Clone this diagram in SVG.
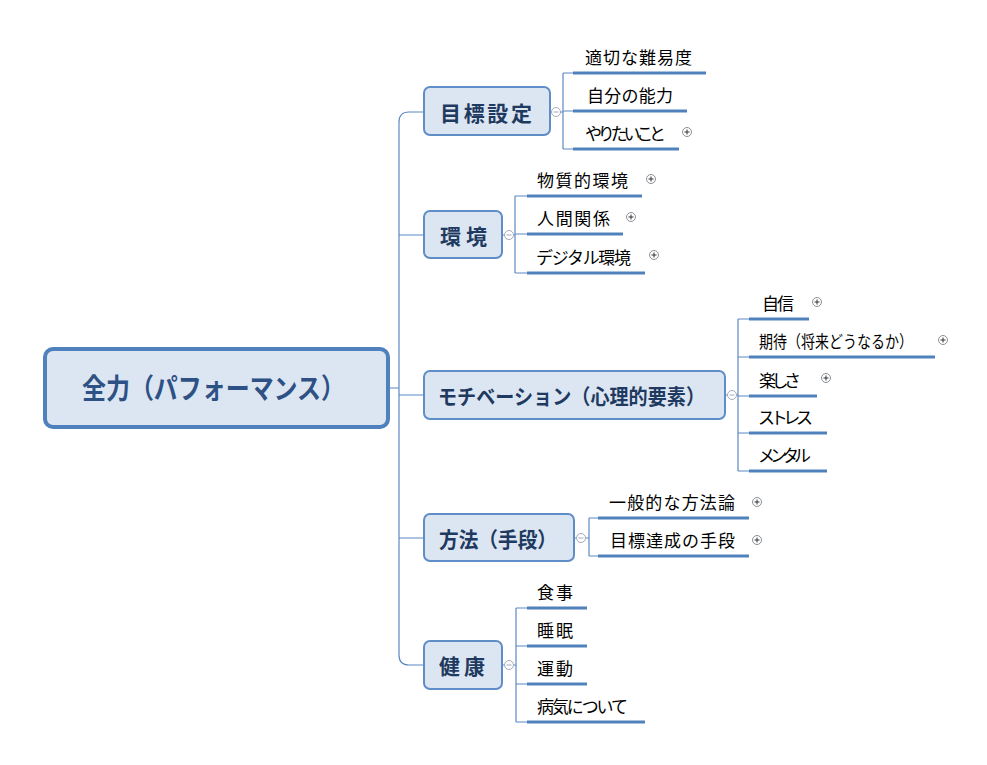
<svg xmlns="http://www.w3.org/2000/svg" width="987" height="765" viewBox="0 0 987 765">
<defs>
<style>
.root{fill:#dce6f2;stroke:#4f81bd;stroke-width:4}
.main{fill:#dce6f2;stroke:#5f8dc8;stroke-width:2}
.rt{font-family:"Noto Sans CJK JP",sans-serif;font-size:28px;font-weight:bold;fill:#2e5185;dominant-baseline:central}
.mt{font-family:"Noto Sans CJK JP",sans-serif;font-size:21px;font-weight:bold;fill:#1f3a60;dominant-baseline:central}
.ct{font-family:"Noto Sans CJK JP",sans-serif;font-size:17px;fill:#000;dominant-baseline:central}
.ln{fill:none;stroke:#5b89c3;stroke-width:1.2}
.ul{stroke:#4f81bd;stroke-width:3}
.cc{fill:#fff;stroke:#a3aabb;stroke-width:1}
.cm{stroke:#a3aabb;stroke-width:1}
.pc{fill:#fff;stroke:#8a8f99;stroke-width:1}
.pm{stroke:#333;stroke-width:1}
</style>
<g id="minus"><circle class="cc" cx="0" cy="0" r="4.5"/><line class="cm" x1="-2.5" y1="0" x2="2.5" y2="0"/></g>
<g id="plus"><circle class="pc" cx="0" cy="0" r="4.5"/><line class="pm" x1="-2.5" y1="0" x2="2.5" y2="0"/><line class="pm" x1="0" y1="-2.5" x2="0" y2="2.5"/></g>
</defs>
<rect width="987" height="765" fill="#fff"/>

<g id="connectors">
<path class="ln" d="M389,388 H399 M423,112 H409 Q399,112 399,122 V655 Q399,665 409,665 H423 M399,235 H423 M399,395 H424 M399,538 H424"/>
<path class="ln" d="M551,112 H563 M563,73 V149 M563,73 H573 M563,111 H573 M563,149 H573"/>
<path class="ln" d="M503,235 H515 M515,196 V273 M515,196 H527 M515,234 H527 M515,273 H527"/>
<path class="ln" d="M726,395 H738 M738,319 V471 M738,319 H749 M738,357 H749 M738,396 H749 M738,433 H749 M738,471 H749"/>
<path class="ln" d="M575,538 H589 M589,518 V556 M589,518 H598 M589,556 H598"/>
<path class="ln" d="M503,665 H516 M516,608 V722 M516,608 H527 M516,646 H527 M516,684 H527 M516,722 H527"/>
<g class="ul">
<line x1="573" y1="73" x2="706" y2="73"/>
<line x1="573" y1="111" x2="687" y2="111"/>
<line x1="573" y1="149" x2="679" y2="149"/>
<line x1="527" y1="196" x2="642" y2="196"/>
<line x1="527" y1="234" x2="623" y2="234"/>
<line x1="527" y1="273" x2="645" y2="273"/>
<line x1="749" y1="319" x2="809" y2="319"/>
<line x1="749" y1="357" x2="935" y2="357"/>
<line x1="749" y1="396" x2="817" y2="396"/>
<line x1="749" y1="433" x2="827" y2="433"/>
<line x1="749" y1="471" x2="827" y2="471"/>
<line x1="598" y1="518" x2="749" y2="518"/>
<line x1="598" y1="556" x2="749" y2="556"/>
<line x1="527" y1="608" x2="587" y2="608"/>
<line x1="527" y1="646" x2="587" y2="646"/>
<line x1="527" y1="684" x2="587" y2="684"/>
<line x1="527" y1="722" x2="645" y2="722"/>
</g>
</g>

<g id="root">
<rect class="root" x="45" y="349" width="343" height="78" rx="8"/>
<text class="rt" x="82" y="387" textLength="263" lengthAdjust="spacingAndGlyphs">全力（パフォーマンス）</text>
</g>

<g id="n-goal">
<rect class="main" x="424" y="87" width="126" height="48" rx="6"/>
<text class="mt" x="440" y="111.5" textLength="92">目標設定</text>
<use href="#minus" x="556" y="112"/>
</g>
<g id="n-env">
<rect class="main" x="424" y="211" width="78" height="47" rx="6"/>
<text class="mt" x="440" y="235" textLength="47">環境</text>
<use href="#minus" x="509" y="235"/>
</g>
<g id="n-mot">
<rect class="main" x="424" y="371" width="301" height="48" rx="6"/>
<text class="mt" x="438" y="395" textLength="267" lengthAdjust="spacingAndGlyphs">モチベーション（心理的要素）</text>
<use href="#minus" x="732" y="395"/>
</g>
<g id="n-method">
<rect class="main" x="424" y="514" width="150" height="47" rx="6"/>
<text class="mt" x="439" y="538" textLength="118" lengthAdjust="spacingAndGlyphs">方法（手段）</text>
<use href="#minus" x="581" y="538"/>
</g>
<g id="n-health">
<rect class="main" x="424" y="641" width="78" height="48" rx="6"/>
<text class="mt" x="439" y="665" textLength="46">健康</text>
<use href="#minus" x="509" y="665"/>
</g>

<g id="c-goal-1"><text class="ct" x="585" y="56" textLength="107">適切な難易度</text></g>
<g id="c-goal-2"><text class="ct" x="587" y="94" textLength="86">自分の能力</text></g>
<g id="c-goal-3"><text class="ct" x="585" y="132" textLength="81">やりたいこと</text><use href="#plus" x="687" y="132"/></g>

<g id="c-env-1"><text class="ct" x="537" y="179" textLength="91">物質的環境</text><use href="#plus" x="651" y="179"/></g>
<g id="c-env-2"><text class="ct" x="537" y="217" textLength="73">人間関係</text><use href="#plus" x="631" y="217"/></g>
<g id="c-env-3"><text class="ct" x="536" y="256" textLength="95">デジタル環境</text><use href="#plus" x="654" y="255"/></g>

<g id="c-mot-1"><text class="ct" x="762" y="302" textLength="32">自信</text><use href="#plus" x="817" y="302"/></g>
<g id="c-mot-2"><text class="ct" x="759" y="340" textLength="154" lengthAdjust="spacingAndGlyphs">期待（将来どうなるか）</text><use href="#plus" x="943" y="340"/></g>
<g id="c-mot-3"><text class="ct" x="759" y="379" textLength="42">楽しさ</text><use href="#plus" x="826" y="378"/></g>
<g id="c-mot-4"><text class="ct" x="758" y="416" textLength="55">ストレス</text></g>
<g id="c-mot-5"><text class="ct" x="758" y="454" textLength="53">メンタル</text></g>

<g id="c-method-1"><text class="ct" x="609" y="501" textLength="126">一般的な方法論</text><use href="#plus" x="757" y="502"/></g>
<g id="c-method-2"><text class="ct" x="610" y="539" textLength="125">目標達成の手段</text><use href="#plus" x="757" y="540"/></g>

<g id="c-health-1"><text class="ct" x="537" y="591" textLength="36">食事</text></g>
<g id="c-health-2"><text class="ct" x="537" y="629" textLength="36">睡眠</text></g>
<g id="c-health-3"><text class="ct" x="537" y="667" textLength="36">運動</text></g>
<g id="c-health-4"><text class="ct" x="537" y="705" textLength="91">病気について</text></g>
</svg>
